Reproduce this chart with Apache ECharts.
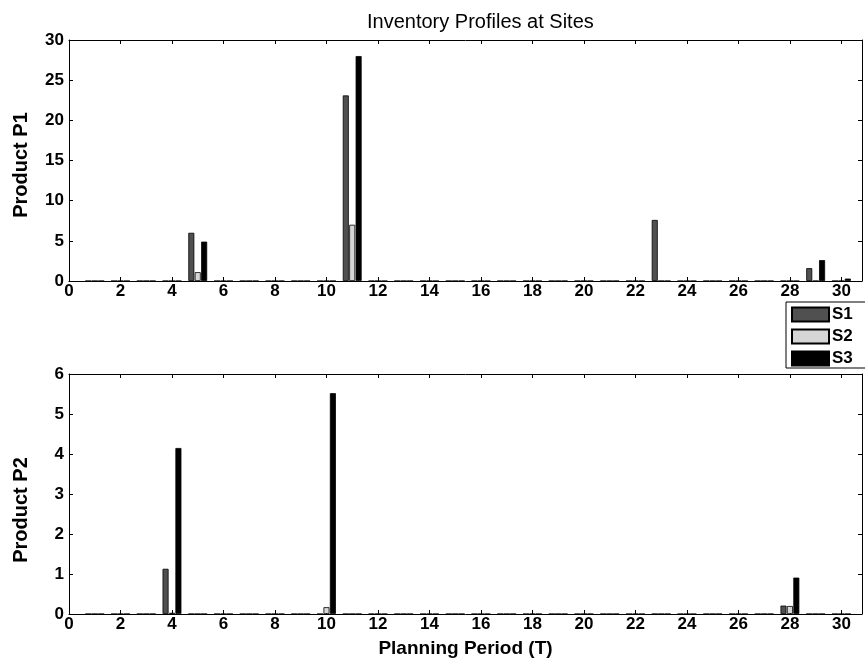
<!DOCTYPE html>
<html>
<head>
<meta charset="utf-8">
<script src="https://cdn.jsdelivr.net/npm/echarts@6/dist/echarts.min.js"></script>
<style>
html,body{margin:0;padding:0;background:#fff;}
#chart{width:865px;height:665px;}
</style>
</head>
<body>
<div id="chart"></div>
<script>
// ---- data ----
const periods = [1,2,3,4,5,6,7,8,9,10,11,12,13,14,15,16,17,18,19,20,21,22,23,24,25,26,27,28,29,30];
const seriesNames = ['S1','S2','S3'];
// Product P1 inventory
const p1S1 = [0,0,0,0,6,0,0,0,0,0,23.1,0,0,0,0,0,0,0,0,0,0,0,7.6,0,0,0,0,0,1.6,0];
const p1S2 = [0,0,0,0,1.1,0,0,0,0,0,7,0,0,0,0,0,0,0,0,0,0,0,0,0,0,0,0,0,0,0];
const p1S3 = [0,0,0,0,4.9,0,0,0,0,0,28,0,0,0,0,0,0,0,0,0,0,0,0,0,0,0,0,0,2.6,0.3];
// Product P2 inventory
const p2S1 = [0,0,0,1.13,0,0,0,0,0,0,0,0,0,0,0,0,0,0,0,0,0,0,0,0,0,0,0,0.21,0,0];
const p2S2 = [0,0,0,0.03,0,0,0,0,0,0.17,0,0,0,0,0,0,0,0,0,0,0,0,0,0,0,0,0,0.2,0,0];
const p2S3 = [0,0,0,4.15,0,0,0,0,0,5.52,0,0,0,0,0,0,0,0,0,0,0,0,0,0,0,0,0,0.91,0,0];
const xTicks = {min:0, max:30.8, interval:2};
const p1Ticks = {min:0, max:30, interval:5};
const p2Ticks = {min:0, max:6, interval:1};

const colors = ['#505050','#d6d6d6','#000000'];
const FONT = 'Liberation Sans, Arial, sans-serif';

function pairs(vals){ return periods.map((p,i)=>[p, vals[i]]); }

const chart = echarts.init(document.getElementById('chart'), null, {renderer:'canvas'});

const grids = [
  {left:69, right:3, top:40, height:241},
  {left:69, right:3, top:374, height:240}
];

function xAx(gi, pos, labels, name){
  return {
    type:'value', gridIndex:gi, position:pos,
    min:xTicks.min, max:xTicks.max, interval:xTicks.interval,
    axisLine:{show:true, onZero:false, lineStyle:{color:'#000', width:1}},
    axisTick:{show:true, inside:true, length:4, lineStyle:{color:'#000'}},
    axisLabel:{show:labels, showMaxLabel:false, color:'#000', fontFamily:FONT, fontWeight:'bold', fontSize:17, margin:2},
    splitLine:{show:false},
    name: name || '', nameLocation:'middle', nameGap:25,
    nameTextStyle:{color:'#000', fontFamily:FONT, fontWeight:'bold', fontSize:19}
  };
}
function yAx(gi, pos, labels, t, name, shift){
  return {
    type:'value', gridIndex:gi, position:pos,
    min:t.min, max:t.max, interval:t.interval,
    axisLine:{show:true, onZero:false, lineStyle:{color:'#000', width:1}},
    axisTick:{show:true, inside:true, length:4, lineStyle:{color:'#000'}},
    axisLabel:{show:labels, color:'#000', fontFamily:FONT, fontWeight:'bold', fontSize:17, margin:5},
    splitLine:{show:false},
    name: name || '', nameLocation:'middle', nameGap:38, nameRotate:90,
    nameTextStyle:{color:'#000', fontFamily:FONT, fontWeight:'bold', fontSize:20, padding:[0, shift||0, 0, 0]}
  };
}

const data = [[p1S1,p1S2,p1S3],[p2S1,p2S2,p2S3]];
const series = [];
[0,1].forEach(gi=>{
  seriesNames.forEach((nm,si)=>{
    series.push({
      type:'bar', name:nm,
      xAxisIndex: gi*2, yAxisIndex: gi*2,
      data: pairs(data[gi][si]),
      barWidth:6, barGap:'7%',
      itemStyle:{color:colors[si], borderColor:'#000', borderWidth:0.8},
      emphasis:{disabled:true}, animation:false
    });
  });
});

chart.setOption({
  animation:false,
  backgroundColor:'#fff',
  title:{text:'Inventory Profiles at Sites', left:362, top:7,
    textStyle:{color:'#000', fontFamily:FONT, fontWeight:'normal', fontSize:20}},
  legend:{
    data:seriesNames.map((n,i)=>({name:n, icon:'rect'})),
    orient:'vertical', left:786, top:302,
    itemWidth:37, itemHeight:14, itemGap:5,
    backgroundColor:'#fff', borderColor:'#000', borderWidth:1, borderRadius:0,
    padding:[4,14,1,5],
    textStyle:{color:'#000', fontFamily:FONT, fontWeight:'bold', fontSize:17, lineHeight:15, padding:[0,0,0,-2]},
    selectedMode:false
  },
  grid:grids,
  xAxis:[xAx(0,'bottom',true), xAx(0,'top',false), xAx(1,'bottom',true,'Planning Period (T)'), xAx(1,'top',false)],
  yAxis:[yAx(0,'left',true,p1Ticks,'Product P1',9), yAx(0,'right',false,p1Ticks), yAx(1,'left',true,p2Ticks,'Product P2',32), yAx(1,'right',false,p2Ticks)],
  series:series
});
</script>
</body>
</html>
